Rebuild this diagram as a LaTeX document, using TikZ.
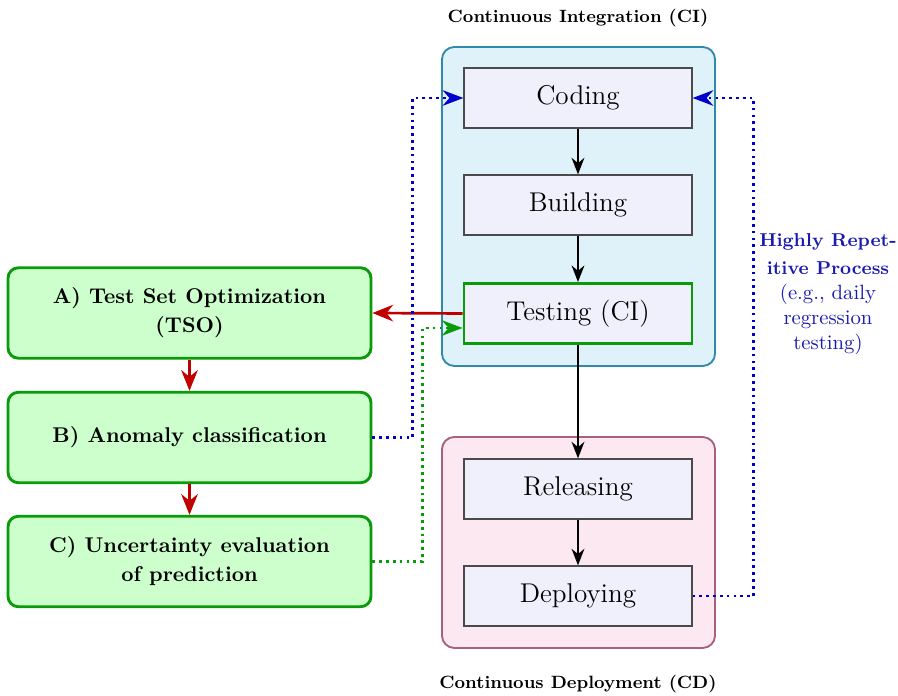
\documentclass[tikz,border=0pt]{standalone}
\usetikzlibrary{arrows.meta}

\definecolor{cifill}{HTML}{DFF2FA}
\definecolor{ciedge}{HTML}{2E8BAA}
\definecolor{cdfill}{HTML}{FCE8F1}
\definecolor{cdedge}{HTML}{A8607F}
\definecolor{stepfill}{HTML}{F0F0FC}
\definecolor{stepedge}{HTML}{4A4A4A}
\definecolor{tsofill}{HTML}{CCFFCC}
\definecolor{tsoedge}{HTML}{0A9A0A}
\definecolor{flowred}{HTML}{C00000}
\definecolor{loopblue}{HTML}{0000CC}
\definecolor{notblue}{HTML}{1A1AB0}

\tikzset{
  stage/.style={draw=stepedge, line width=0.6pt, fill=stepfill,
    minimum width=110.1pt, minimum height=29pt, font=\fontsize{13.1}{15}\selectfont, inner sep=0pt},
  phase/.style={draw=tsoedge, line width=1.4pt, fill=tsofill, rounded corners=5pt,
    minimum width=175.3pt, minimum height=43.7pt, font=\fontsize{10.3}{14}\selectfont\bfseries,
    align=center, inner sep=0pt},
  group/.style={line width=0.9pt, rounded corners=6pt, minimum width=131.9pt, inner sep=0pt},
  heading/.style={font=\fontsize{8.6}{10}\selectfont\bfseries},
  flow/.style={line width=0.9pt, -{Stealth[length=8pt,width=6.2pt]}},
  redflow/.style={draw=flowred, line width=1.3pt, -{Stealth[length=10pt,width=8pt]}},
  loop/.style={line width=1.3pt, dotted, -{Stealth[length=10pt,width=7.5pt]}},
}

\begin{document}
\begin{tikzpicture}[x=0.483pt, y=-0.483pt]
  \useasboundingbox (0,0) rectangle (898,696);

  % pipeline containers
  \node[group, draw=ciedge, fill=cifill, minimum height=154.1pt] (ci) at (578.5,206.5) {};
  \node[group, draw=cdedge, fill=cdfill, minimum height=101.9pt] (cd) at (578.5,542.5) {};
  \node[heading] (cititle) at (578,18) {Continuous Integration (CI)};
  \node[heading] (cdtitle) at (578,684) {Continuous Deployment (CD)};

  % pipeline stages
  \node[stage] (coding)    at (578,98)    {Coding};
  \node[stage] (building)  at (578,205)   {Building};
  \node[stage, draw=tsoedge, line width=1.4pt] (testing) at (578,313.5) {Testing (CI)};
  \node[stage] (releasing) at (578,489)   {Releasing};
  \node[stage] (deploying) at (578,596)   {Deploying};

  % research steps
  \node[phase] (tso)   at (189.5,313)   {A) Test Set Optimization\\(TSO)};
  \node[phase] (anom)  at (189.5,437.5) {B) Anomaly classification};
  \node[phase] (uncert) at (189.5,561.5) {C) Uncertainty evaluation\\of prediction};

  % repetition note
  \node[text=notblue, align=center, inner sep=0pt] (note) at (828,294)
    {\small\bfseries Highly Repet-\\[1.5pt]\small\bfseries itive Process\\[0.5pt](e.g., daily\\regression\\testing)};

  % pipeline flow
  \draw[flow] (coding) -- (building);
  \draw[flow] (building) -- (testing);
  \draw[flow] (testing) -- (releasing);
  \draw[flow] (releasing) -- (deploying);

  % research flow
  \draw[redflow] (testing.west) -- (tso.east);
  \draw[redflow] (tso) -- (anom);
  \draw[redflow] (anom) -- (uncert);

  % feedback loops
  \draw[loop, loopblue] (anom.east) -- ++(40,0) |- (coding.west);
  \draw[loop, tsoedge] (uncert.east) -- ++(50,0) |- ([yshift=-7pt]testing.west);
  \draw[loop, loopblue] (deploying.east) -- ++(61,0) |- (coding.east);
\end{tikzpicture}
\end{document}
